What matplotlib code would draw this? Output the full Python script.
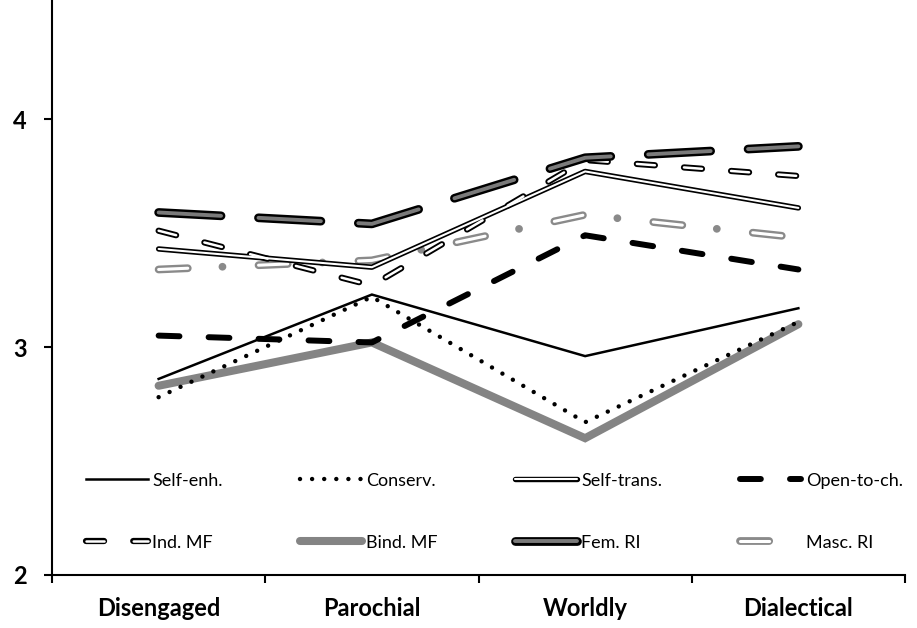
import matplotlib
matplotlib.use("Agg")
import matplotlib.pyplot as plt
from matplotlib.legend_handler import HandlerTuple

plt.rcParams['font.family'] = ['Lato', 'DejaVu Sans']
plt.rcParams['lines.scale_dashes'] = False

categories = ["Disengaged", "Parochial", "Worldly", "Dialectical"]
self_enh = [2.86, 3.23, 2.96, 3.17]
conserv = [2.78, 3.22, 2.67, 3.11]
self_trans = [3.43, 3.35, 3.77, 3.61]
open_to_ch = [3.05, 3.02, 3.49, 3.34]
ind_mf = [3.51, 3.27, 3.82, 3.75]
bind_mf = [2.83, 3.02, 2.60, 3.10]
fem_ri = [3.59, 3.54, 3.83, 3.88]
masc_ri = [3.34, 3.38, 3.58, 3.48]
labels = ["Self-enh.", "Conserv.", "Self-trans.", "Open-to-ch.",
          "Ind. MF", "Bind. MF", "Fem. RI", "Masc. RI"]
yticks = [2, 3, 4]

fig = plt.figure(figsize=(9.17, 6.28), dpi=100)
ax = fig.add_axes([52/917, 53/628, (905-52)/917, 1 - 53/628])
x = list(range(len(categories)))
GRAY = '#848484'

h_bind, = ax.plot(x, bind_mf, color=GRAY, lw=5.8, solid_capstyle='round', solid_joinstyle='miter', zorder=2)
h_se, = ax.plot(x, self_enh, color='black', lw=1.8, solid_joinstyle='miter', zorder=3)
h_co, = ax.plot(x, conserv, color='black', lw=3.2, linestyle=(0, (0.01, 8.7)),
                dash_capstyle='round', zorder=3)
h_op, = ax.plot(x, open_to_ch, color='black', lw=4.3, linestyle=(0, (15, 21)),
                dash_capstyle='round', zorder=3)
h_st1, = ax.plot(x, self_trans, color='black', lw=3.9, solid_capstyle='round', zorder=4)
h_st2, = ax.plot(x, self_trans, color='white', lw=1.5, solid_capstyle='round', zorder=4.1)
ind_ls = (0, (13, 21))
h_im1, = ax.plot(x, ind_mf, color='black', lw=4.5, linestyle=ind_ls, dash_capstyle='round', zorder=4)
h_im2, = ax.plot(x, ind_mf, color='white', lw=1.8, linestyle=ind_ls, dash_capstyle='round', zorder=4.1)
h_mr1, = ax.plot(x, masc_ri, color='#8a8a8a', lw=5.6, linestyle=(0, (21, 25, 0.01, 26)),
                 dash_capstyle='round', zorder=3.5)
h_mr2, = ax.plot(x, masc_ri, color='white', lw=2.2, linestyle=(0, (21, 51.01)),
                 dash_capstyle='round', zorder=3.6)
fem_ls = (0, (45, 27))
h_fr1, = ax.plot(x, fem_ri, color='black', lw=6.3, linestyle=fem_ls, dash_capstyle='round', zorder=4.2)
h_fr2, = ax.plot(x, fem_ri, color='#7a7a7a', lw=2.8, linestyle=fem_ls, dash_capstyle='round', zorder=4.3)

ax.set_xlim(-0.5, len(categories) - 0.5)
ax.set_ylim(2, 2 + 575/228)
ax.set_yticks(yticks)
ax.set_yticklabels([str(t) for t in yticks], fontsize=17, fontweight='bold')
ax.set_xticks(x)
ax.set_xticklabels(categories, fontsize=17, fontweight='bold')
ax.set_xticks([i - 0.5 for i in range(len(categories) + 1)], minor=True)
ax.tick_params(axis='x', which='major', length=0, pad=16)
ax.tick_params(axis='x', which='minor', length=6, width=1.5, direction='out')
ax.tick_params(axis='y', length=6, width=1.5, direction='out', pad=12)
for s in ['top', 'right']:
    ax.spines[s].set_visible(False)
for s in ['left', 'bottom']:
    ax.spines[s].set_linewidth(1.5)

handles = [h_se, h_co, (h_st1, h_st2), h_op,
           (h_im1, h_im2), h_bind, (h_fr1, h_fr2), (h_mr1, h_mr2)]
# legend fills column-wise: reorder so it reads row-wise
order = [0, 4, 1, 5, 2, 6, 3, 7]
leg = ax.legend([handles[i] for i in order], [labels[i] for i in order],
                ncol=4, loc='upper left', bbox_to_anchor=(0.04, 0.178),
                borderpad=0, borderaxespad=0,
                frameon=False, fontsize=13, handlelength=3.4, handletextpad=0.25,
                columnspacing=4.3, labelspacing=2.55,
                handler_map={tuple: HandlerTuple(ndivide=1, pad=0)})

fig.savefig("out.png", dpi=100)
